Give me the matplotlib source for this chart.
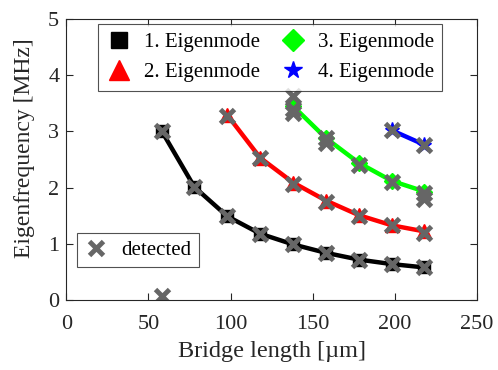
import matplotlib
matplotlib.use("Agg")
import matplotlib.pyplot as plt

plt.rcParams['font.family'] = ['Liberation Serif', 'DejaVu Serif']

# bridge lengths [um] and eigenfrequencies [MHz]
len1 = [58, 78, 98, 118, 138, 158, 178, 198, 218]
mode1 = [3.01, 2.01, 1.49, 1.18, 0.99, 0.84, 0.72, 0.64, 0.58]
len2 = [98, 118, 138, 158, 178, 198, 218]
mode2 = [3.29, 2.53, 2.09, 1.77, 1.51, 1.33, 1.22]
len3 = [138, 158, 178, 198, 218]
mode3 = [3.45, 2.88, 2.44, 2.12, 1.93]
len4 = [198, 218]
mode4 = [3.02, 2.76]

# detected peaks
det_len = [58, 58, 78, 98, 118, 138, 158, 178, 198, 218,
           98, 118, 138, 158, 178, 198, 218,
           138, 138, 138, 158, 158, 178, 198, 218, 218,
           198, 218]
det_freq = [3.01, 0.08, 2.01, 1.49, 1.18, 0.99, 0.84, 0.72, 0.64, 0.58,
            3.27, 2.53, 2.07, 1.75, 1.50, 1.33, 1.19,
            3.62, 3.40, 3.32, 2.88, 2.80, 2.40, 2.10, 1.90, 1.80,
            3.02, 2.75]

fig = plt.figure(figsize=(4.98, 3.70), dpi=100)
ax = fig.add_axes([0.133, 0.189, 0.825, 0.760])

h1, = ax.plot(len1, mode1, color='black', lw=3.2, marker='s', ms=8)
h2, = ax.plot(len2, mode2, color='red', lw=3.2, marker='^', ms=10)
h3, = ax.plot(len3, mode3, color='#00ff00', lw=3.2, marker='D', ms=8)
h4, = ax.plot(len4, mode4, color='blue', lw=3.2, marker='*', ms=11)
hd, = ax.plot(det_len, det_freq, ls='none', marker='x', ms=10, mew=3.5,
              color='#666666')

ax.set_xlim(0, 250)
ax.set_ylim(0, 5)
ax.set_xticks([0, 50, 100, 150, 200, 250])
ax.set_yticks([0, 1, 2, 3, 4, 5])
ax.tick_params(direction='in', top=True, right=True, labelsize=16,
               length=5, color='#262626', labelcolor='#262626', pad=5)
ax.tick_params(axis='x', pad=11)
for s in ax.spines.values():
    s.set_color('#262626')
    s.set_linewidth(0.8)
ax.set_xlabel('Bridge length [µm]', fontsize=17.5, color='#262626', labelpad=5)
ax.set_ylabel('Eigenfrequency [MHz]', fontsize=17, color='#262626')
ax.yaxis.set_label_coords(-0.075, 0.54)

leg = ax.legend([h1, h2, h3, h4],
                ['1. Eigenmode', '2. Eigenmode', '3. Eigenmode', '4. Eigenmode'],
                ncol=2, loc='upper left', bbox_to_anchor=(0.077, 0.98),
                fontsize=15, frameon=True, fancybox=False, edgecolor='#262626',
                handlelength=1.2, columnspacing=1.0, handletextpad=0.6,
                borderpad=0.4, labelspacing=0.5, borderaxespad=0)
for line, ms in zip(leg.get_lines(), [11, 14, 11, 13]):
    line.set_linestyle('none')
    line.set_markersize(ms)
leg.get_frame().set_linewidth(0.8)
ax.add_artist(leg)

leg2 = ax.legend([hd], ['detected'], loc='lower left',
                 bbox_to_anchor=(0.025, 0.117), fontsize=15, frameon=True,
                 fancybox=False, edgecolor='#262626', handlelength=1.2,
                 handletextpad=0.6, borderpad=0.35, borderaxespad=0)
leg2.get_frame().set_linewidth(0.8)

fig.savefig('out.png', dpi=100)
